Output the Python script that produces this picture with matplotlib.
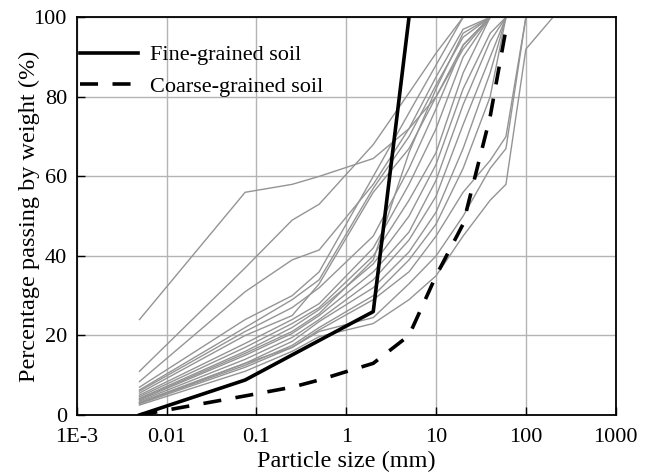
import numpy as np
import matplotlib
matplotlib.use("Agg")
import matplotlib.pyplot as plt

plt.rcParams['font.family'] = ['Liberation Serif', 'DejaVu Serif']

sieve = [0.005, 0.075, 0.25, 0.5, 2, 5, 10, 20, 40, 60, 100, 200]

samples = [
    [24, 56, 58, 60, 64.5, 72, 80, 92, 100],
    [11, 37, 49, 53, 68, 81, 91, 100],
    [8.4, 31, 39, 41.5, 58, 72, 85, 97, 100],
    [7, 24, 30, 36, 60, 76, 88, 100],
    [6.3, 22, 29, 34, 57, 70, 83, 95, 100],
    [5.5, 20, 25, 33, 56, 67, 80, 93, 100],
    [5, 18, 24, 28, 42, 58, 72, 90, 100],
    [4.6, 17, 23, 27, 40, 54, 66, 86, 100],
    [4.2, 16, 22, 26.5, 38, 50, 63, 82, 96, 100],
    [3.8, 15, 20.5, 25, 36, 46, 59, 78, 94, 100],
    [3.5, 14, 19.5, 24, 34, 44, 55, 73, 90, 100],
    [3.2, 13, 18.5, 23.5, 32, 41, 51, 67, 86, 100],
    [3.0, 12.5, 17.5, 22, 30, 39, 48, 62, 80, 100],
    [2.8, 12, 17, 21.4, 29, 36, 45, 56, 64, 70, 100],
    [2.5, 11, 16, 19.7, 23, 29, 35, 45, 54, 58, 92, 100],
    [3.0, 13, 17, 21, 24.5, 33, 40, 50, 62, 67, 100],
    [6.0, 21, 27, 32, 45, 62, 77, 93, 100],
    [4.0, 15.5, 21, 25.5, 39, 66, 82, 96, 100],
]

fine_x = [0.005, 0.075, 2, 5]
fine_y = [0, 8.8, 26, 100]

coarse_x = [0.005, 0.075, 0.25, 0.5, 2, 5, 10, 20, 40, 60]
coarse_y = [0, 4.8, 7, 8.8, 13, 20, 35, 48, 75, 97]

xticks = [1e-3, 1e-2, 1e-1, 1, 10, 100, 1000]
xticklabels = ['1E-3', '0.01', '0.1', '1', '10', '100', '1000']
yticks = [0, 20, 40, 60, 80, 100]

fig = plt.figure(figsize=(6.56, 4.73), dpi=100)
ax = fig.add_axes([0.1169, 0.1226, 0.8217, 0.8408])

for s in samples:
    ax.plot(sieve[:len(s)], s, color='#949494', lw=1.0, zorder=2)

ax.plot(fine_x, fine_y, color='black', lw=2.6, zorder=3, label='Fine-grained soil')
ax.plot(coarse_x, coarse_y, color='black', lw=2.6, zorder=3, dashes=(5, 4),
        label='Coarse-grained soil')

ax.set_xscale('log')
ax.set_xlim(1e-3, 1000)
ax.set_ylim(0, 100)
ax.set_xticks(xticks)
ax.set_xticklabels(xticklabels)
ax.xaxis.set_minor_locator(matplotlib.ticker.NullLocator())
ax.set_yticks(yticks)
ax.tick_params(direction='in', labelsize=16, length=6, width=1)
ax.tick_params(axis='x', pad=9)
ax.tick_params(axis='y', pad=7)
ax.grid(True, color='#b4b4b4', lw=1.0, zorder=1)
for sp in ax.spines.values():
    sp.set_linewidth(1.3)

ax.set_xlabel('Particle size (mm)', fontsize=17.5, labelpad=3)
ax.set_ylabel('Percentage passing by weight (%)', fontsize=17.5, labelpad=-4.5)

leg = ax.legend(loc='upper left', frameon=False, fontsize=16, handlelength=2.6,
                handletextpad=0.55, labelspacing=0.5, borderaxespad=0.3,
                bbox_to_anchor=(-0.022, 0.97))

fig.savefig('out.png', dpi=100)
